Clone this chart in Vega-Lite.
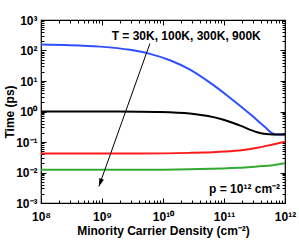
{
  "$schema": "https://vega.github.io/schema/vega-lite/v6.json",
  "width": 244,
  "height": 183,
  "autosize": {"type": "none"},
  "padding": {"left": 41, "top": 20, "right": 14, "bottom": 37},
  "config": {
    "view": {"stroke": "black", "strokeWidth": 1.2},
    "font": "Liberation Sans",
    "axis": {
      "grid": false, "domain": false, "tickColor": "black", "tickWidth": 1,
      "labelColor": "black", "labelFont": "Liberation Sans", "labelFontWeight": "bold", "labelFontSize": 12,
      "labelFlush": false, "labelOverlap": false,
      "titleFont": "Liberation Sans", "titleFontWeight": "bold", "titleFontSize": 12, "titleColor": "black"
    }
  },
  "datasets": {
    "curves": [
      {"x": 1e8, "y": 157, "T": "30K"},
      {"x": 2.99e8, "y": 150, "T": "30K"},
      {"x": 9.27e8, "y": 134, "T": "30K"},
      {"x": 2.88e9, "y": 105, "T": "30K"},
      {"x": 6.12e9, "y": 77.4, "T": "30K"},
      {"x": 1.3e10, "y": 47.7, "T": "30K"},
      {"x": 2.77e10, "y": 23.5, "T": "30K"},
      {"x": 5.89e10, "y": 8.8, "T": "30K"},
      {"x": 1.25e11, "y": 2.83, "T": "30K"},
      {"x": 2.67e11, "y": 0.822, "T": "30K"},
      {"x": 4.7e11, "y": 0.308, "T": "30K"},
      {"x": 6.12e11, "y": 0.197, "T": "30K"},
      {"x": 7.12e11, "y": 0.176, "T": "30K"},
      {"x": 1e12, "y": 0.176, "T": "30K"},
      {"x": 1e8, "y": 1.0, "T": "100K"},
      {"x": 1e9, "y": 1.0, "T": "100K"},
      {"x": 4.2e9, "y": 0.99, "T": "100K"},
      {"x": 8.9e9, "y": 0.97, "T": "100K"},
      {"x": 2.75e10, "y": 0.86, "T": "100K"},
      {"x": 9.5e10, "y": 0.55, "T": "100K"},
      {"x": 1.8e11, "y": 0.35, "T": "100K"},
      {"x": 3.5e11, "y": 0.21, "T": "100K"},
      {"x": 4.9e11, "y": 0.182, "T": "100K"},
      {"x": 6.3e11, "y": 0.176, "T": "100K"},
      {"x": 1e12, "y": 0.176, "T": "100K"},
      {"x": 1e8, "y": 0.042, "T": "300K"},
      {"x": 4.2e9, "y": 0.042, "T": "300K"},
      {"x": 2.75e10, "y": 0.044, "T": "300K"},
      {"x": 1.8e11, "y": 0.0526, "T": "300K"},
      {"x": 3.5e11, "y": 0.0645, "T": "300K"},
      {"x": 6.3e11, "y": 0.083, "T": "300K"},
      {"x": 1e12, "y": 0.102, "T": "300K"},
      {"x": 1e8, "y": 0.0123, "T": "900K"},
      {"x": 4.2e9, "y": 0.0123, "T": "900K"},
      {"x": 2.75e10, "y": 0.0128, "T": "900K"},
      {"x": 1.8e11, "y": 0.0142, "T": "900K"},
      {"x": 3.5e11, "y": 0.0158, "T": "900K"},
      {"x": 6.3e11, "y": 0.0174, "T": "900K"},
      {"x": 1e12, "y": 0.020, "T": "900K"}
    ],
    "tlabel": [{"x": 2.4e10, "y": 229, "label": "T = 30K, 100K, 300K, 900K"}],
    "plabel": [{"x": 8.3e11, "y": 0.0022, "label": "p = 10¹² cm⁻²"}],
    "arrow": [{"x": 6.1e9, "y": 170, "x2": 8.9e8, "y2": 0.0035}]
  },
  "resolve": {"axis": {"x": "independent", "y": "independent"}},
  "layer": [
    {
      "data": {"name": "curves"},
      "mark": {"type": "line", "strokeWidth": 2, "interpolate": "monotone"},
      "encoding": {
        "x": {"field": "x", "type": "quantitative",
          "scale": {"type": "log", "domain": [1e8, 1e12]},
          "axis": {"orient": "bottom", "values": [1e8, 1e9, 1e10, 1e11, 1e12], "tickSize": -5, "labelPadding": 13,
            "labelExpr": "'10' + ['⁸','⁹','¹⁰','¹¹','¹²'][round(log(datum.value)/LN10) - 8]",
            "title": "Minority Carrier Density (cm⁻²)", "titlePadding": 3}},
        "y": {"field": "y", "type": "quantitative",
          "scale": {"type": "log", "domain": [1e-3, 1e3]},
          "axis": {"orient": "left", "values": [1e-3, 1e-2, 1e-1, 1, 10, 100, 1000], "tickSize": -5, "labelPadding": 9,
            "labelExpr": "'10' + ['⁻³','⁻²','⁻¹','⁰','¹','²','³'][round(log(datum.value)/LN10) + 3]",
            "title": "Time (ps)", "titlePadding": -1}},
        "color": {"field": "T", "type": "nominal",
          "scale": {"domain": ["30K", "100K", "300K", "900K"], "range": ["#3050ff", "#000000", "#ff1a1a", "#33aa33"]},
          "legend": null}
      }
    },
    {
      "data": {"name": "tlabel"},
      "mark": {"type": "text", "fontSize": 12, "fontWeight": "bold", "align": "center", "baseline": "alphabetic", "color": "black"},
      "encoding": {
        "x": {"field": "x", "type": "quantitative", "scale": {"type": "log", "domain": [1e8, 1e12]},
          "axis": {"orient": "bottom", "values": [2e8,3e8,4e8,5e8,6e8,7e8,8e8,9e8,2e9,3e9,4e9,5e9,6e9,7e9,8e9,9e9,2e10,3e10,4e10,5e10,6e10,7e10,8e10,9e10,2e11,3e11,4e11,5e11,6e11,7e11,8e11,9e11],
            "labels": false, "tickSize": -3, "title": null}},
        "y": {"field": "y", "type": "quantitative", "scale": {"type": "log", "domain": [1e-3, 1e3]},
          "axis": {"orient": "left", "values": [2e-3,3e-3,4e-3,5e-3,6e-3,7e-3,8e-3,9e-3,2e-2,3e-2,4e-2,5e-2,6e-2,7e-2,8e-2,9e-2,0.2,0.3,0.4,0.5,0.6,0.7,0.8,0.9,2,3,4,5,6,7,8,9,20,30,40,50,60,70,80,90,200,300,400,500,600,700,800,900],
            "labels": false, "tickSize": -3, "title": null}},
        "text": {"field": "label", "type": "nominal"}
      }
    },
    {
      "data": {"name": "plabel"},
      "mark": {"type": "text", "fontSize": 12, "fontWeight": "bold", "align": "right", "baseline": "alphabetic", "color": "black"},
      "encoding": {
        "x": {"field": "x", "type": "quantitative", "scale": {"type": "log", "domain": [1e8, 1e12]},
          "axis": {"orient": "top", "values": [1e8, 1e9, 1e10, 1e11, 1e12], "labels": false, "tickSize": -5, "title": null}},
        "y": {"field": "y", "type": "quantitative", "scale": {"type": "log", "domain": [1e-3, 1e3]},
          "axis": {"orient": "right", "values": [1e-3, 1e-2, 1e-1, 1, 10, 100, 1000], "labels": false, "tickSize": -5, "title": null}},
        "text": {"field": "label", "type": "nominal"}
      }
    },
    {
      "data": {"name": "arrow"},
      "mark": {"type": "rule", "color": "black", "strokeWidth": 1},
      "encoding": {
        "x": {"field": "x", "type": "quantitative", "scale": {"type": "log", "domain": [1e8, 1e12]},
          "axis": {"orient": "top", "values": [2e8,3e8,4e8,5e8,6e8,7e8,8e8,9e8,2e9,3e9,4e9,5e9,6e9,7e9,8e9,9e9,2e10,3e10,4e10,5e10,6e10,7e10,8e10,9e10,2e11,3e11,4e11,5e11,6e11,7e11,8e11,9e11],
            "labels": false, "tickSize": -3, "title": null}},
        "y": {"field": "y", "type": "quantitative", "scale": {"type": "log", "domain": [1e-3, 1e3]},
          "axis": {"orient": "right", "values": [2e-3,3e-3,4e-3,5e-3,6e-3,7e-3,8e-3,9e-3,2e-2,3e-2,4e-2,5e-2,6e-2,7e-2,8e-2,9e-2,0.2,0.3,0.4,0.5,0.6,0.7,0.8,0.9,2,3,4,5,6,7,8,9,20,30,40,50,60,70,80,90,200,300,400,500,600,700,800,900],
            "labels": false, "tickSize": -3, "title": null}},
        "x2": {"field": "x2"},
        "y2": {"field": "y2"}
      }
    },
    {
      "data": {"name": "arrow"},
      "mark": {"type": "point", "filled": true, "color": "black", "opacity": 1, "size": 256, "angle": 19.6,
        "shape": "M0,0L-0.3,-1L0.3,-1Z"},
      "encoding": {
        "x": {"field": "x2", "type": "quantitative", "scale": {"type": "log", "domain": [1e8, 1e12]}, "axis": null},
        "y": {"field": "y2", "type": "quantitative", "scale": {"type": "log", "domain": [1e-3, 1e3]}, "axis": null}
      }
    }
  ]
}
